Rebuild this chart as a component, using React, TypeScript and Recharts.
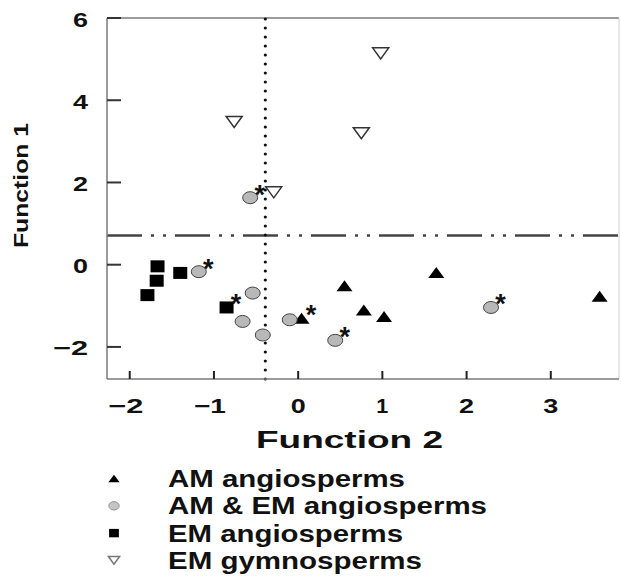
import { ScatterChart, Scatter, XAxis, YAxis, ReferenceLine, Legend } from "recharts";

const FONT = "'Liberation Sans', Arial, Helvetica, sans-serif";

// x = Function 2, y = Function 1, star = point flagged with an asterisk
const amAngiosperms = [
  { x: 0.55, y: -0.51, star: false },
  { x: 1.64, y: -0.19, star: false },
  { x: 0.78, y: -1.1, star: false },
  { x: 1.02, y: -1.26, star: false },
  { x: 0.04, y: -1.3, star: true },
  { x: 3.58, y: -0.77, star: false }
];
const amEmAngiosperms = [
  { x: -0.57, y: 1.63, star: true },
  { x: -1.18, y: -0.17, star: true },
  { x: -0.54, y: -0.69, star: false },
  { x: -0.66, y: -1.38, star: false },
  { x: -0.42, y: -1.71, star: false },
  { x: -0.1, y: -1.34, star: false },
  { x: 0.44, y: -1.84, star: true },
  { x: 2.29, y: -1.04, star: true }
];
const emAngiosperms = [
  { x: -1.67, y: -0.04, star: false },
  { x: -1.4, y: -0.2, star: false },
  { x: -1.68, y: -0.39, star: false },
  { x: -1.79, y: -0.74, star: false },
  { x: -0.85, y: -1.04, star: true }
];
const emGymnosperms = [
  { x: 0.98, y: 5.14, star: false },
  { x: -0.76, y: 3.47, star: false },
  { x: 0.75, y: 3.2, star: false },
  { x: -0.29, y: 1.76, star: false }
];

const xTicks = [-2, -1, 0, 1, 2, 3];
const yTicks = [-2, 0, 2, 4, 6];
const xDomain = [-2.27, 3.81];
const yDomain = [-2.78, 6];
const splitFunction2 = -0.39;
const splitFunction1 = 0.71;

const legendItems = [
  { kind: "triUp", label: "AM angiosperms", width: 237 },
  { kind: "circle", label: "AM & EM angiosperms", width: 319 },
  { kind: "square", label: "EM angiosperms", width: 235 },
  { kind: "triDown", label: "EM gymnosperms", width: 254 }
];

type Kind = "triUp" | "circle" | "square" | "triDown";

const fmt = (v: number) => (v < 0 ? "\u2212" + Math.abs(v) : String(v));
// the original lettering is stretched sideways, so widths are set per glyph
const labelWidth = (s: string) =>
  [...s].reduce((w, c) => w + (c === "\u2212" ? 20 : c === "1" ? 12 : 15), 0);

function Marker({ kind, cx, cy, small = false }: { kind: Kind; cx: number; cy: number; small?: boolean }) {
  const k = small ? 0.7 : 1;
  if (kind === "triUp") {
    const w = 8 * k, h = 5.5 * k;
    return <polygon points={`${cx - w},${cy + h} ${cx + w},${cy + h} ${cx},${cy - h}`} fill="#000" />;
  }
  if (kind === "triDown") {
    const w = 8 * k, h = 5.5 * k;
    return (
      <polygon
        points={`${cx - w},${cy - h} ${cx + w},${cy - h} ${cx},${cy + h}`}
        fill="#fff"
        stroke={small ? "#777" : "#333"}
        strokeWidth={1.5}
      />
    );
  }
  if (kind === "circle") {
    return (
      <ellipse
        cx={cx}
        cy={cy}
        rx={7.5 * k}
        ry={6 * k}
        fill={small ? "#c4c4c4" : "#b8b8b8"}
        stroke={small ? "#999" : "#444"}
        strokeWidth={1}
      />
    );
  }
  return <rect x={cx - 7 * k} y={cy - 6 * k} width={14 * k} height={12 * k} fill="#000" />;
}

function makeShape(kind: Kind) {
  return (props: any) => {
    const { cx, cy, payload } = props;
    return (
      <g>
        <Marker kind={kind} cx={cx} cy={cy} />
        {payload.star && (
          <text x={cx + 9.5} y={cy + 6} textAnchor="middle" fontFamily={FONT} fontWeight="bold" fontSize={27} fill="#111">
            *
          </text>
        )}
      </g>
    );
  };
}

const XTick = (props: any) => {
  const { x, y, payload } = props;
  const label = fmt(payload.value);
  return (
    <g>
      <line x1={x} x2={x} y1={y} y2={y - 8} stroke="#222" strokeWidth={2} />
      <text
        x={x - (payload.value < 0 ? 4 : 0)}
        y={y + 34}
        textAnchor="middle"
        fontFamily={FONT}
        fontWeight="bold"
        fontSize={21}
        fill="#111"
        textLength={labelWidth(label)}
        lengthAdjust="spacingAndGlyphs"
      >
        {label}
      </text>
    </g>
  );
};

const YTick = (props: any) => {
  const { x, y, payload } = props;
  const label = fmt(payload.value);
  return (
    <g>
      <line x1={x} x2={x + 14} y1={y} y2={y} stroke="#333" strokeWidth={2} />
      <text
        x={x - 19}
        y={y + 8.5}
        textAnchor="end"
        fontFamily={FONT}
        fontWeight="bold"
        fontSize={21}
        fill="#111"
        textLength={labelWidth(label)}
        lengthAdjust="spacingAndGlyphs"
      >
        {label}
      </text>
    </g>
  );
};

const renderLegend = () => (
  <svg width={621} height={126} style={{ overflow: "visible", display: "block" }}>
    {legendItems.map((item, i) => {
      const base = 37 + i * 27.3;
      return (
        <g key={item.label}>
          <Marker kind={item.kind as Kind} cx={114} cy={base - 8.5} small />
          <text
            x={168}
            y={base}
            fontFamily={FONT}
            fontWeight="bold"
            fontSize={23}
            fill="#111"
            textLength={item.width}
            lengthAdjust="spacingAndGlyphs"
          >
            {item.label}
          </text>
        </g>
      );
    })}
  </svg>
);

export default function App() {
  return (
    <div style={{ position: "absolute", left: 0, top: 0, width: 621, height: 576, background: "#fff" }}>
      <ScatterChart width={621} height={576} margin={{ top: 18, right: 2, left: 0, bottom: 126 }}>
        <XAxis
          type="number"
          dataKey="x"
          domain={xDomain}
          ticks={xTicks}
          allowDataOverflow
          height={71}
          tickSize={0}
          tickMargin={0}
          tickLine={false}
          axisLine={{ stroke: "#7a7a7a", strokeWidth: 1.5 }}
          tick={<XTick />}
          label={{
            content: (p: any) => {
              const vb = p.viewBox;
              return (
                <text
                  x={vb.x + vb.width / 2 - 13.5}
                  y={vb.y + 69}
                  textAnchor="middle"
                  fontFamily={FONT}
                  fontWeight="bold"
                  fontSize={23}
                  fill="#111"
                  textLength={187}
                  lengthAdjust="spacingAndGlyphs"
                >
                  Function 2
                </text>
              );
            }
          }}
        />
        <YAxis
          type="number"
          dataKey="y"
          domain={yDomain}
          ticks={yTicks}
          allowDataOverflow
          width={107}
          tickSize={0}
          tickMargin={0}
          tickLine={false}
          axisLine={{ stroke: "#7a7a7a", strokeWidth: 1.5 }}
          tick={<YTick />}
          label={{
            content: () => (
              <text
                x={28}
                y={185.5}
                transform="rotate(-90, 28, 185.5)"
                textAnchor="middle"
                fontFamily={FONT}
                fontWeight="bold"
                fontSize={21}
                fill="#111"
                textLength={125}
                lengthAdjust="spacingAndGlyphs"
              >
                Function 1
              </text>
            )
          }}
        />
        <ReferenceLine y={yDomain[1]} stroke="#7a7a7a" strokeWidth={1.5} />
        <ReferenceLine x={xDomain[1]} stroke="#d0d0d0" strokeWidth={1} />
        <ReferenceLine y={splitFunction1} stroke="#444" strokeWidth={2.5} strokeDasharray="35 9 3 9 3 9" />
        <ReferenceLine
          x={splitFunction2}
          stroke="#111"
          strokeWidth={3.2}
          strokeDasharray="0 9"
          strokeLinecap="round"
        />
        <Scatter name="AM angiosperms" data={amAngiosperms} shape={makeShape("triUp")} isAnimationActive={false} />
        <Scatter name="AM & EM angiosperms" data={amEmAngiosperms} shape={makeShape("circle")} isAnimationActive={false} />
        <Scatter name="EM angiosperms" data={emAngiosperms} shape={makeShape("square")} isAnimationActive={false} />
        <Scatter name="EM gymnosperms" data={emGymnosperms} shape={makeShape("triDown")} isAnimationActive={false} />
        <Legend
          layout="vertical"
          align="center"
          verticalAlign="middle"
          wrapperStyle={{ left: 0, top: 450, width: 621, height: 126 }}
          content={renderLegend}
        />
      </ScatterChart>
    </div>
  );
}
